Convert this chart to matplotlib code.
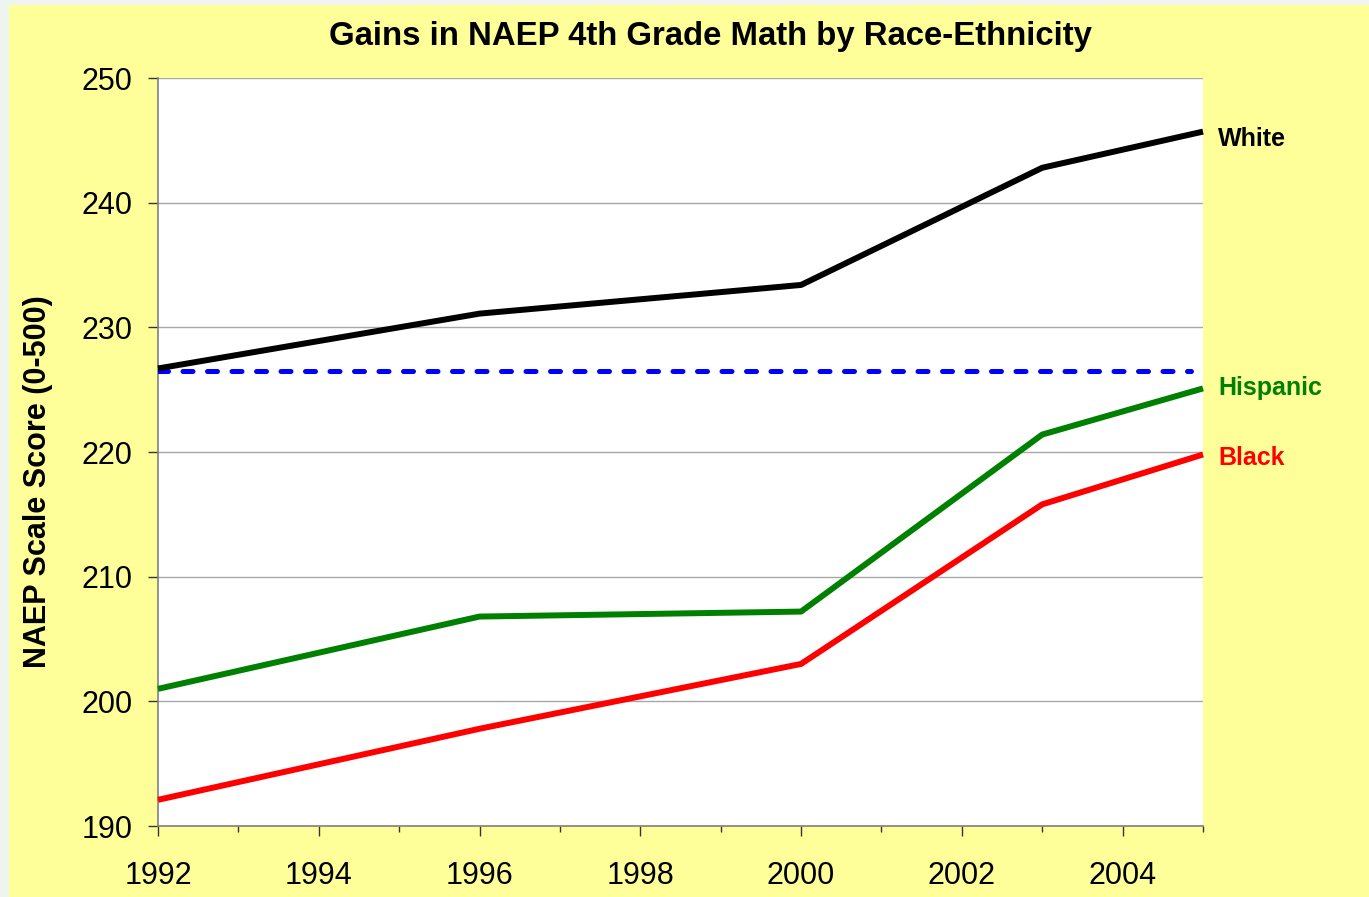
import numpy as np
import matplotlib.pyplot as plt
from matplotlib.ticker import MultipleLocator

# NAEP 4th grade math scale scores
years = [1992, 1996, 2000, 2003, 2005]
white = [226.7, 231.1, 233.4, 242.8, 245.7]
hispanic = [201.0, 206.8, 207.2, 221.4, 225.1]
black = [192.1, 197.8, 203.0, 215.8, 219.8]
white_1992 = 226.5  # dashed reference line

series_names = ["White", "Hispanic", "Black"]
series_colors = ["#000000", "#008000", "#FF0000"]
label_dy = [-5, 0, -2.5]  # label nudges in points

plt.rcParams['font.family'] = ['Liberation Sans', 'DejaVu Sans']

fig = plt.figure(figsize=(13.69, 8.97), dpi=100)
fig.patch.set_facecolor('#EEF4F0')
# yellow slide background
fig.add_artist(plt.Rectangle((9 / 1369, 0), 1, 1 - 5 / 897, transform=fig.transFigure,
                             facecolor='#FFFF99', edgecolor='none', zorder=0))

ax = fig.add_axes([158 / 1369, 1 - 826 / 897, (1203 - 158) / 1369, (826 - 78) / 897])
ax.set_facecolor('white')

ax.plot([years[0], years[-1] - 0.15], [white_1992, white_1992], color='#0000FF', lw=3.6,
        dashes=(2.0, 2.9), dash_capstyle='round', zorder=3)

for vals, name, col, dy in zip([white, hispanic, black], series_names, series_colors, label_dy):
    ax.plot(years, vals, color=col, lw=4.3, solid_capstyle='butt', zorder=4, clip_on=False)
    ax.annotate(name, (years[-1], vals[-1]), xytext=(11, dy), textcoords='offset points',
                color=col, fontsize=18, fontweight='bold', va='center', ha='left',
                annotation_clip=False)

ax.set_xlim(1992, 2005)
ax.set_ylim(190, 250)
ax.xaxis.set_major_locator(MultipleLocator(2))
ax.xaxis.set_minor_locator(MultipleLocator(1))
ax.yaxis.set_major_locator(MultipleLocator(10))

ax.grid(axis='y', color='#A8A8A8', lw=1)
ax.set_axisbelow(True)
for s in ['top', 'right']:
    ax.spines[s].set_visible(False)
for s in ['left', 'bottom']:
    ax.spines[s].set_color('#808080')
    ax.spines[s].set_linewidth(1.2)

ax.tick_params(axis='both', which='major', labelsize=22, length=7, width=1, color='#333333')
ax.tick_params(axis='x', which='minor', length=4.5, width=1, color='#333333')
ax.tick_params(axis='x', which='major', pad=18)
ax.tick_params(axis='y', which='major', pad=11.5)

ax.set_ylabel("NAEP Scale Score (0-500)", fontsize=22, fontweight='bold')
ax.yaxis.set_label_coords(-0.1, 0.46)
fig.text(0.519, 1 - 37 / 897, "Gains in NAEP 4th Grade Math by Race-Ethnicity",
         ha='center', va='center', fontsize=23.7, fontweight='bold')

fig.savefig('out.png', dpi=100, facecolor=fig.get_facecolor())
